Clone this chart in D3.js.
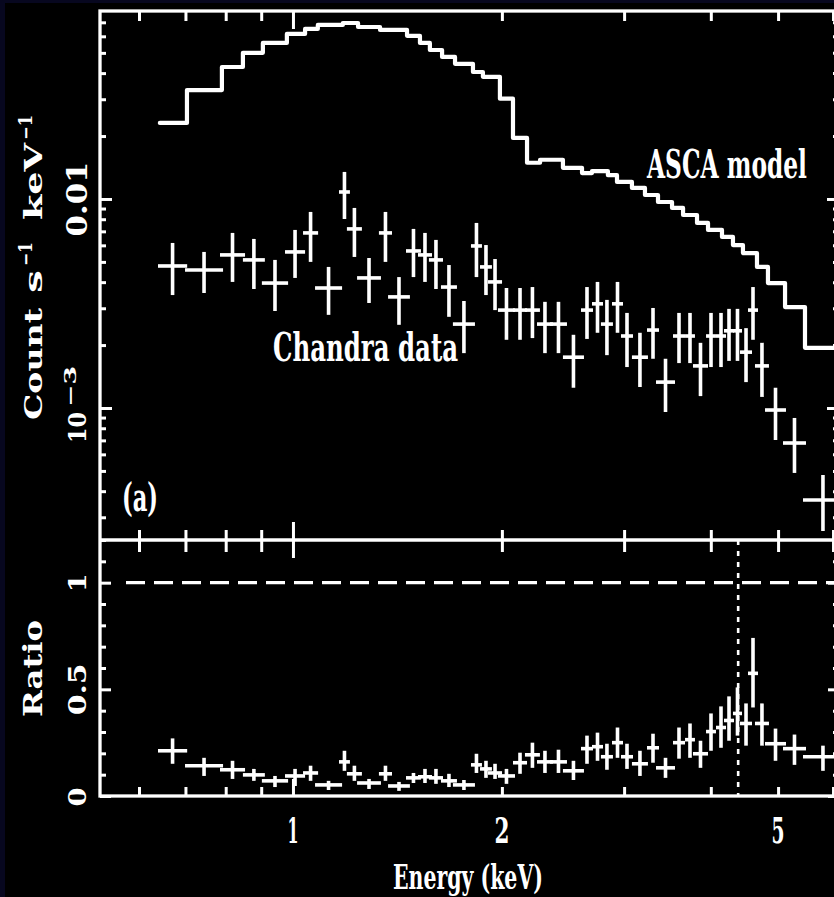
<!DOCTYPE html>
<html><head><meta charset="utf-8">
<script src="https://cdn.jsdelivr.net/npm/d3@7"></script>
<style>
html,body{margin:0;padding:0;background:#07071f;}
svg{display:block;}
</style></head><body>
<svg id="c" width="834" height="897"></svg>
<script>
// ---------- data ----------
// ASCA model (step histogram): bin edges (keV) and model rate (count s^-1 keV^-1)
const modelEdges = [0.643, 0.7035, 0.790, 0.847, 0.905, 0.980, 1.041, 1.086, 1.180, 1.241,
  1.335, 1.460, 1.524, 1.575, 1.640, 1.712, 1.817, 1.878, 1.987, 2.075,
  2.174, 2.270, 2.449, 2.609, 2.697, 2.843, 2.930, 3.079, 3.215, 3.357,
  3.517, 3.648, 3.821, 3.963, 4.151, 4.305, 4.450, 4.662, 4.835, 5.117,
  5.467, 6.3];
const modelRate = [0.0231, 0.0332, 0.0428, 0.0500, 0.0558, 0.0616, 0.0651, 0.0680, 0.0695, 0.0665,
  0.0644, 0.0603, 0.0558, 0.0516, 0.0478, 0.0443, 0.0405, 0.0384, 0.0302, 0.0196,
  0.0149, 0.0154, 0.0141, 0.0133, 0.0136, 0.0130, 0.01206, 0.01129, 0.01045, 0.00967,
  0.00906, 0.00838, 0.00768, 0.00711, 0.00658, 0.00602, 0.00551, 0.00473, 0.00396, 0.00304,
  0.00194];

// Chandra data: energy bins (keV)
const binLo = [0.639, 0.699, 0.785, 0.847, 0.902, 0.974, 1.034, 1.076, 1.165, 1.196,
  1.237, 1.330, 1.371, 1.455, 1.514, 1.570, 1.634, 1.700, 1.805, 1.860,
  1.910, 1.974, 2.075, 2.159, 2.247, 2.346, 2.449, 2.600, 2.697, 2.778,
  2.882, 2.969, 3.079, 3.237, 3.335, 3.528, 3.672, 3.770, 3.937, 4.069,
  4.179, 4.305, 4.407, 4.525, 4.631, 4.788, 5.082, 5.431];
const binHi = [0.704, 0.793, 0.853, 0.911, 0.984, 1.041, 1.087, 1.177, 1.208, 1.257,
  1.339, 1.389, 1.474, 1.529, 1.586, 1.645, 1.723, 1.829, 1.872, 1.935,
  2.001, 2.089, 2.174, 2.269, 2.369, 2.482, 2.626, 2.706, 2.797, 2.891,
  2.989, 3.090, 3.247, 3.368, 3.552, 3.672, 3.795, 3.963, 4.069, 4.207,
  4.320, 4.436, 4.586, 4.678, 4.851, 5.133, 5.485, 6.20];
// Chandra count rate and error bar bounds
const rate = [0.00478, 0.00457, 0.00540, 0.00511, 0.00396, 0.00558, 0.00688, 0.00375, 0.01080, 0.00719,
  0.00419, 0.00688, 0.00340, 0.00564, 0.00540, 0.00511, 0.00379, 0.00252, 0.00596, 0.00473,
  0.00401, 0.00294, 0.00294, 0.00294, 0.00252, 0.00252, 0.00175, 0.00294, 0.00315, 0.00252,
  0.00315, 0.00221, 0.00175, 0.00236, 0.00133, 0.00221, 0.00221, 0.00159, 0.00221, 0.00221,
  0.00234, 0.00234, 0.00185, 0.00294, 0.00159, 0.000978, 0.000680, 0.000363];
const rateUp = [0.00616, 0.00558, 0.00688, 0.00644, 0.00511, 0.00711, 0.00867, 0.00473, 0.01347, 0.00906,
  0.00522, 0.00867, 0.00423, 0.00719, 0.00688, 0.00637, 0.00483, 0.00325, 0.00768, 0.00602,
  0.00516, 0.00375, 0.00375, 0.00379, 0.00322, 0.00322, 0.00224, 0.00379, 0.00401, 0.00329,
  0.00401, 0.00285, 0.00229, 0.00301, 0.00172, 0.00285, 0.00285, 0.00205, 0.00285, 0.00285,
  0.00298, 0.00298, 0.00241, 0.00379, 0.00205, 0.00125, 0.000896, 0.000478];
const rateDown = [0.00347, 0.00355, 0.00401, 0.00371, 0.00291, 0.00419, 0.00500, 0.00279, 0.00802, 0.00528,
  0.00318, 0.00500, 0.00250, 0.00423, 0.00401, 0.00371, 0.00273, 0.00183, 0.00423, 0.00347,
  0.00294, 0.00212, 0.00212, 0.00216, 0.00183, 0.00183, 0.00125, 0.00214, 0.00229, 0.00179,
  0.00229, 0.00157, 0.00126, 0.00172, 0.000957, 0.00164, 0.00164, 0.00114, 0.00157, 0.00157,
  0.00168, 0.00168, 0.00133, 0.00212, 0.00113, 0.000703, 0.000489, 0.000258];

// data / model ratio
const ratio = [0.212, 0.142, 0.123, 0.099, 0.071, 0.094, 0.108, 0.052, 0.160, 0.104,
  0.061, 0.104, 0.047, 0.085, 0.090, 0.085, 0.071, 0.052, 0.146, 0.127,
  0.108, 0.094, 0.156, 0.193, 0.160, 0.160, 0.118, 0.222, 0.231, 0.184,
  0.250, 0.184, 0.151, 0.226, 0.132, 0.250, 0.264, 0.198, 0.302, 0.321,
  0.354, 0.387, 0.340, 0.575, 0.340, 0.245, 0.222, 0.184];
const ratioUp = [0.270, 0.179, 0.165, 0.127, 0.094, 0.127, 0.142, 0.071, 0.212, 0.142,
  0.080, 0.142, 0.066, 0.108, 0.127, 0.127, 0.104, 0.075, 0.198, 0.165,
  0.151, 0.127, 0.203, 0.250, 0.212, 0.217, 0.165, 0.283, 0.297, 0.245,
  0.321, 0.245, 0.212, 0.292, 0.179, 0.321, 0.340, 0.259, 0.387, 0.420,
  0.467, 0.509, 0.434, 0.741, 0.434, 0.316, 0.288, 0.236];
const ratioDown = [0.151, 0.094, 0.080, 0.071, 0.042, 0.047, 0.071, 0.028, 0.118, 0.071,
  0.033, 0.071, 0.024, 0.061, 0.061, 0.057, 0.042, 0.028, 0.108, 0.085,
  0.080, 0.057, 0.104, 0.132, 0.108, 0.108, 0.075, 0.151, 0.165, 0.123,
  0.179, 0.127, 0.094, 0.156, 0.085, 0.175, 0.179, 0.132, 0.212, 0.226,
  0.259, 0.283, 0.236, 0.415, 0.236, 0.165, 0.146, 0.118];

const lineEnergy = 4.38;      // dotted vertical marker (keV)
const unityRatio = 1;         // dashed reference line
const xTickLabels = [1, 2, 5];
const ratioTickLabels = [0, 0.5, 1];
const ratioMajor = [0, 0.5, 1];
const ratioMinor = [0, 0.1, 0.2, 0.3, 0.4, 0.5, 0.6, 0.7, 0.8, 0.9, 1.0, 1.1, 1.2];

// ---------- layout ----------
const L = 100, R = 839, T = 11, M = 540, B = 796;
const svg = d3.select("#c");
const FONT = "'DejaVu Serif Condensed','DejaVu Serif',serif";
const CAP = 0.729;

svg.append("rect").attr("width", 834).attr("height", 897).attr("fill", "#07071f");
svg.append("rect").attr("x", 5).attr("y", 3).attr("width", 829).attr("height", 894).attr("fill", "#000");

const x = d3.scaleLog().domain([0.5272, 6.12]).range([L, R]);
const yTop = d3.scaleLog().domain([2.336e-4, 0.0793]).range([M, T]);
const yBot = d3.scaleLinear().domain([0, 1.2]).range([B, M]);

const defs = svg.append("defs");
defs.append("clipPath").attr("id", "clipTop").append("rect")
  .attr("x", L).attr("y", T).attr("width", R - L).attr("height", M - T);
defs.append("clipPath").attr("id", "clipBot").append("rect")
  .attr("x", L).attr("y", M).attr("width", R - L).attr("height", B - M);

// ---------- top panel ----------
const gTop = svg.append("g").attr("clip-path", "url(#clipTop)");
const modelPts = modelEdges.map((e, i) => [e, modelRate[Math.min(i, modelRate.length - 1)]]);
gTop.append("path")
  .attr("d", d3.line().x(d => x(d[0])).y(d => yTop(d[1])).curve(d3.curveStepAfter)(modelPts))
  .attr("fill", "none").attr("stroke", "#fff").attr("stroke-width", 4.2)
  .attr("stroke-linejoin", "round").attr("stroke-linecap", "round");

const idx = d3.range(rate.length);
const xc = i => x(Math.sqrt(binLo[i] * binHi[i]));
const eb = gTop.append("g").attr("stroke", "#fff").attr("stroke-width", 3.6);
eb.selectAll("line.h").data(idx).join("line").attr("class", "h")
  .attr("x1", i => x(binLo[i])).attr("x2", i => x(binHi[i]))
  .attr("y1", i => yTop(rate[i])).attr("y2", i => yTop(rate[i]));
eb.selectAll("line.v").data(idx).join("line").attr("class", "v")
  .attr("x1", xc).attr("x2", xc)
  .attr("y1", i => yTop(rateDown[i])).attr("y2", i => yTop(rateUp[i]));

// ---------- bottom panel ----------
const gBot = svg.append("g").attr("clip-path", "url(#clipBot)");
gBot.append("line").attr("x1", L + 26).attr("x2", R)
  .attr("y1", yBot(unityRatio)).attr("y2", yBot(unityRatio))
  .attr("stroke", "#fff").attr("stroke-width", 3.3).attr("stroke-dasharray", "19,9");
gBot.append("line").attr("x1", x(lineEnergy)).attr("x2", x(lineEnergy))
  .attr("y1", M).attr("y2", B)
  .attr("stroke", "#fff").attr("stroke-width", 2.6).attr("stroke-dasharray", "5,6");
const rb = gBot.append("g").attr("stroke", "#fff").attr("stroke-width", 3.6);
rb.selectAll("line.h").data(idx).join("line").attr("class", "h")
  .attr("x1", i => x(binLo[i])).attr("x2", i => x(binHi[i]))
  .attr("y1", i => yBot(ratio[i])).attr("y2", i => yBot(ratio[i]));
rb.selectAll("line.v").data(idx).join("line").attr("class", "v")
  .attr("x1", xc).attr("x2", xc)
  .attr("y1", i => yBot(ratioDown[i])).attr("y2", i => yBot(ratioUp[i]));

// ---------- frame & ticks ----------
svg.append("rect").attr("x", L).attr("y", T).attr("width", R - L).attr("height", B - T)
  .attr("fill", "none").attr("stroke", "#fff").attr("stroke-width", 3.3);
svg.append("line").attr("x1", L).attr("x2", R).attr("y1", M).attr("y2", M)
  .attr("stroke", "#fff").attr("stroke-width", 3.3);

const isDecade = v => Math.abs(Math.log10(v) - Math.round(Math.log10(v))) < 1e-6;
const xTicks = x.ticks();
const xMinor = xTicks.filter(v => !isDecade(v)), xMajor = xTicks.filter(isDecade);
const yTicks = yTop.ticks();
const yMinor = yTicks.filter(v => !isDecade(v)), yMajor = yTicks.filter(isDecade);

function axis(gen, vals, size, tx, ty) {
  const g = svg.append("g").attr("transform", `translate(${tx},${ty})`)
    .call(gen.tickValues(vals).tickSizeInner(size).tickSizeOuter(0).tickFormat(""));
  g.select(".domain").remove();
  g.selectAll(".tick line").attr("stroke", "#fff").attr("stroke-width", 3);
}
axis(d3.axisTop(x), xMinor, -10, 0, T);
axis(d3.axisTop(x), xMajor, -18, 0, T);
axis(d3.axisBottom(x), xMinor, -10, 0, M);
axis(d3.axisBottom(x), xMajor, -18, 0, M);
axis(d3.axisTop(x), xMinor, -12, 0, M);
axis(d3.axisTop(x), xMajor, -18, 0, M);
axis(d3.axisBottom(x), xMinor, -9, 0, B);
axis(d3.axisBottom(x), xMajor, -17, 0, B);
axis(d3.axisLeft(yTop), yMinor, -6, L, 0);
axis(d3.axisLeft(yTop), yMajor, -12, L, 0);
axis(d3.axisRight(yTop), yMinor, -6, R, 0);
axis(d3.axisRight(yTop), yMajor, -12, R, 0);
const rMinor = ratioMinor.filter(v => !ratioMajor.some(m => Math.abs(m - v) < 1e-9));
axis(d3.axisLeft(yBot), rMinor, -6, L, 0);
axis(d3.axisLeft(yBot), ratioMajor, -11, L, 0);
axis(d3.axisRight(yBot), rMinor, -6, R, 0);
axis(d3.axisRight(yBot), ratioMajor, -11, R, 0);

// ---------- text (fit natural width, then stretch height like the source) ----------
const gt = svg.append("g").attr("fill", "#fff").attr("font-family", FONT).attr("font-weight", "bold");
function fit(str, len, thick) {
  const t = gt.append("text").attr("font-size", 100).text(str);
  const w = t.node().getComputedTextLength();
  const fs = 100 * len / w;
  t.attr("font-size", fs.toFixed(2));
  return { t, k: thick / (CAP * fs) };
}
function htext(str, x0, x1, yb, capH) {
  const { t, k } = fit(str, x1 - x0, capH);
  t.attr("transform", `translate(${x0},${yb}) scale(1,${k.toFixed(3)})`);
}
function vtext(str, y0, y1, xb, thick) {
  const { t, k } = fit(str, y0 - y1, thick);
  t.attr("transform", `translate(${xb},${y0}) rotate(-90) scale(1,${k.toFixed(3)})`);
}

// x tick labels
const xLabelWidth = { 1: 11, 2: 15, 5: 13 };
xTickLabels.forEach(v => {
  const w = xLabelWidth[v] || 13, px = x(v);
  htext(String(v), px - w / 2, px + w / 2, 843, 26);
});
// top-panel y tick labels
{
  const y1 = yTop(0.01);
  vtext("0.01", y1 + 37.5, y1 - 37.5, 87, 20);
  const y3 = yTop(0.001);
  vtext("10", y3 + 35, y3 + 4, 86, 18);
  vtext("\u22123", y3 - 1, y3 - 42, 76, 12);
}
// ratio tick labels
ratioTickLabels.forEach(v => {
  const s = String(v), len = s.length === 1 ? 19 : 52, py = yBot(v) + (v === 0 ? 1 : 0);
  vtext(s, py + len / 2, py - len / 2, 86, 18);
});

// axis titles
vtext("Count", 420, 308, 42, 17);
vtext("s", 293, 270, 42, 17);
vtext("\u22121", 266, 242, 32, 13);
vtext("keV", 220, 143, 42, 17);
vtext("\u22121", 140, 115, 32, 13);
vtext("Ratio", 717, 620, 42, 19);
htext("Energy (keV)", 393, 543, 889, 25);

// annotations
htext("ASCA model", 647, 807, 178, 28);
htext("Chandra data", 273, 458, 361, 28);
htext("(a)", 122, 158, 511, 28);
</script>
</body></html>
